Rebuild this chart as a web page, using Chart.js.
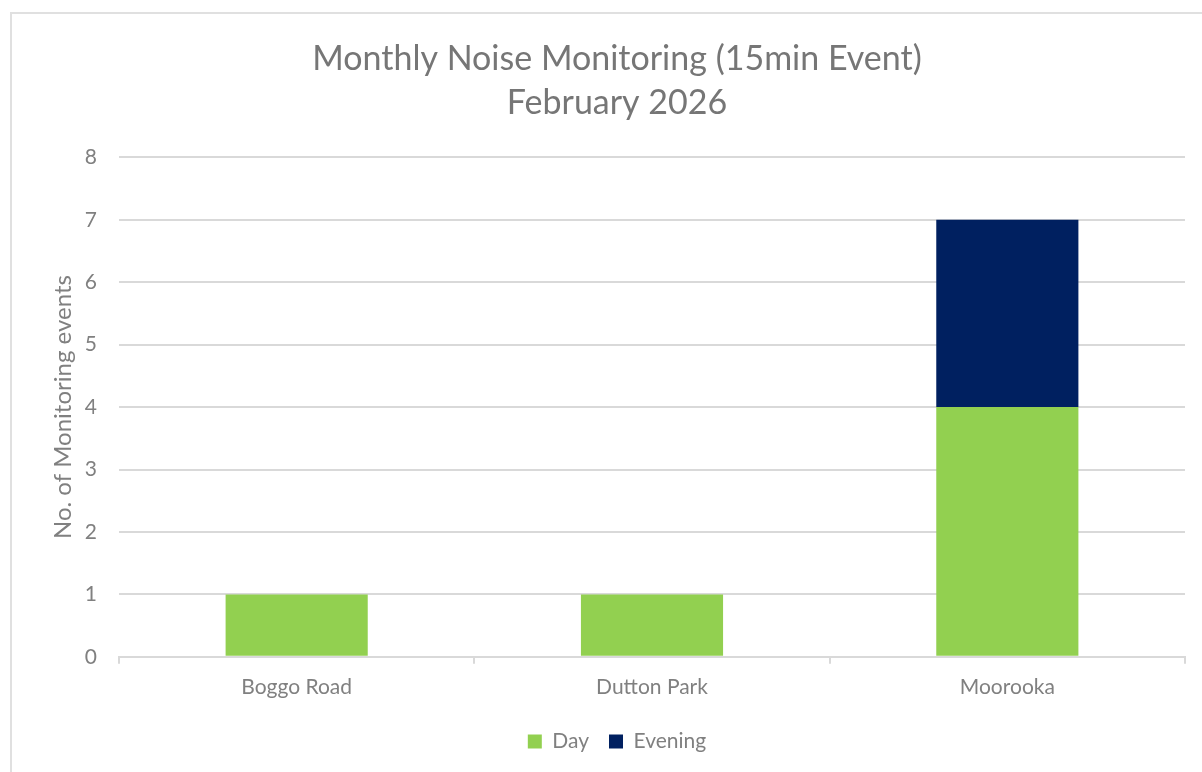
<!DOCTYPE html>
<html>
<head>
<meta charset="utf-8">
<script src="https://cdn.jsdelivr.net/npm/chart.js@4/dist/chart.umd.min.js"></script>
<style>
  html, body { margin: 0; padding: 0; background: #fff; }
  #frame {
    position: absolute; left: 10px; top: 12px; width: 1200px; height: 770px;
    border: 2px solid #e0e0e0; box-sizing: border-box;
  }
  #wrap { position: absolute; left: 0; top: 0; width: 1202px; height: 772px; }
</style>
</head>
<body>
<div id="frame"></div>
<div id="wrap"><canvas id="chart"></canvas></div>
<script>
// Chart data
const sites = ['Boggo Road', 'Dutton Park', 'Moorooka'];
const dayEvents = [1, 1, 4];
const eveningEvents = [0, 0, 3];
const titleLines = ['Monthly Noise Monitoring (15min Event)', 'February 2026'];

const textGray = '#808080';
const gridGray = '#d9d9d9';
const fontFamily = 'Lato, "Open Sans", sans-serif';

const ctx = document.getElementById('chart').getContext('2d');
new Chart(ctx, {
    type: 'bar',
    data: {
        labels: sites,
        datasets: [
            { label: 'Day', data: dayEvents, backgroundColor: '#92D050', borderWidth: 0 },
            { label: 'Evening', data: eveningEvents, backgroundColor: '#002060', borderWidth: 0 }
        ]
    },
    options: {
        responsive: true,
        maintainAspectRatio: false,
        animation: false,
        layout: { padding: { left: 49, right: 17, top: 0, bottom: 10 } },
        plugins: {
            title: {
                display: true,
                text: titleLines,
                color: '#767676',
                font: { family: fontFamily, size: 34, weight: 'normal', lineHeight: 1.3 },
                padding: { top: 37, bottom: 32 }
            },
            legend: {
                position: 'bottom',
                labels: {
                    color: textGray,
                    font: { family: fontFamily, size: 21 },
                    boxWidth: 14,
                    boxHeight: 14,
                    padding: 20
                }
            },
            tooltip: { enabled: false }
        },
        scales: {
            x: {
                stacked: true,
                grid: {
                    offset: true,
                    drawOnChartArea: false,
                    drawTicks: true,
                    tickLength: 7,
                    color: gridGray,
                    lineWidth: 2
                },
                border: { display: true, color: gridGray, width: 2 },
                ticks: { color: textGray, font: { family: fontFamily, size: 21 }, padding: 11 },
                categoryPercentage: 1,
                barPercentage: 0.4
            },
            y: {
                stacked: true,
                min: 0,
                max: 8,
                afterFit: scale => { scale.width = 70; },
                ticks: { stepSize: 1, color: textGray, font: { family: fontFamily, size: 21 }, padding: 22 },
                grid: { color: gridGray, lineWidth: 2, drawTicks: false },
                border: { display: false },
                title: {
                    display: true,
                    text: 'No. of Monitoring events',
                    color: textGray,
                    font: { family: fontFamily, size: 24 },
                    padding: { top: 0, bottom: 8 }
                }
            }
        },
        datasets: { bar: { categoryPercentage: 1, barPercentage: 0.4 } }
    }
});
</script>
</body>
</html>
